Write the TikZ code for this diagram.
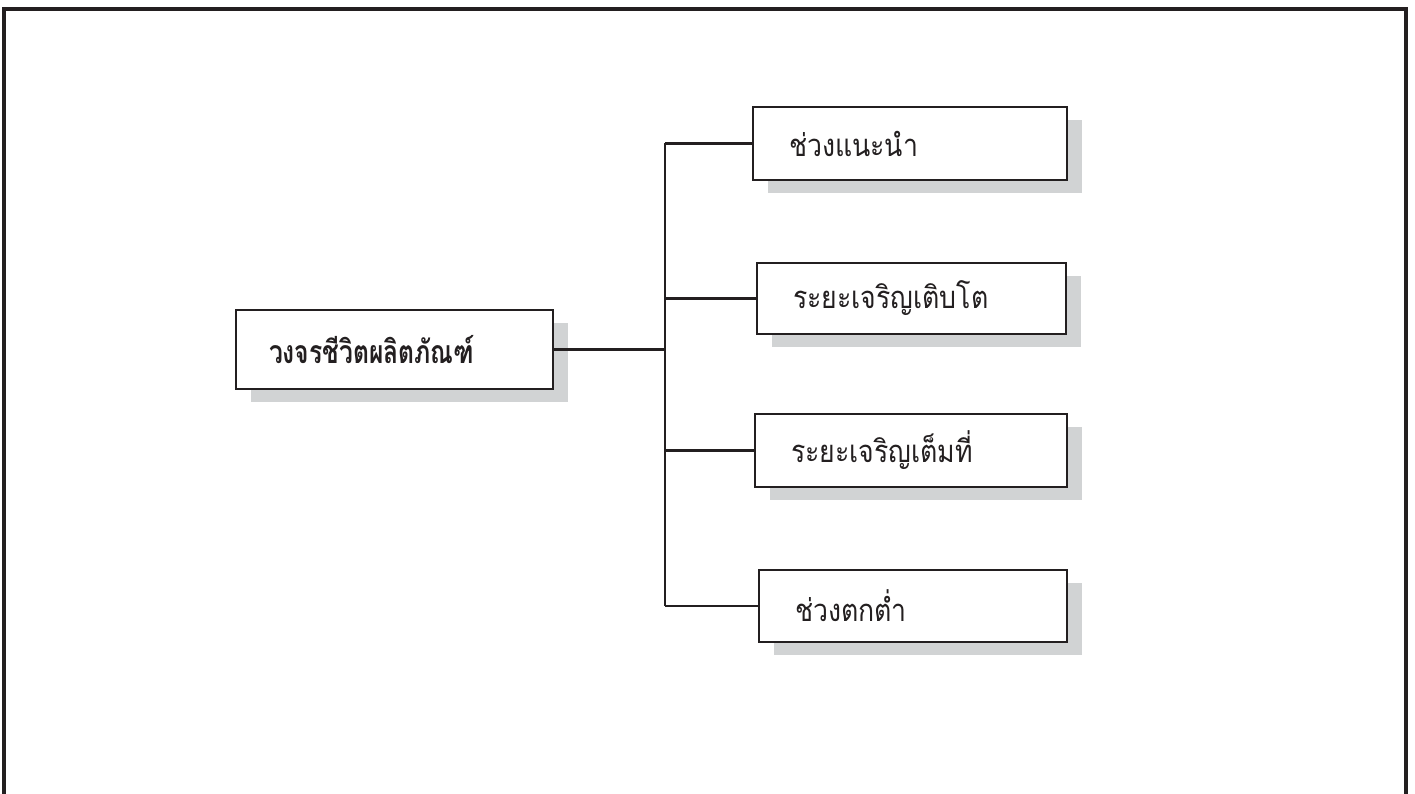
\documentclass[tikz,border=0pt]{standalone}
\usepackage{fontspec}
\newfontfamily\thaifont[Script=Thai, FakeStretch=0.86]{Loma}
\newfontfamily\thaibold[Script=Thai, FakeStretch=0.77]{Loma}
\usetikzlibrary{shadows}
\definecolor{shgray}{RGB}{209,211,212}
\definecolor{ink}{RGB}{35,31,32}
\tikzset{
  box/.style={draw=ink, line width=2.3pt, fill=white, inner ysep=0pt, inner xsep=36pt,
    align=left, text=ink, font=\thaifont\fontsize{31}{36}\selectfont,
    drop shadow={fill=shgray, opacity=1, shadow xshift=15pt, shadow yshift=-13pt}},
  link/.style={draw=ink, line width=2.3pt},
}
\begin{document}
\begin{tikzpicture}[x=1pt,y=-1pt]
\useasboundingbox (0,0) rectangle (1415,794);
\draw[ink, line width=4pt] (4,800) -- (4,9.5) -- (1406,9.5) -- (1406,800);
\node[box, inner xsep=33pt, text width=251pt, minimum height=79pt, font=\thaibold\bfseries\fontsize{32}{36}\selectfont] (main) at (394.5,349.5) {วงจรชีวิตผลิตภัณฑ์};
\node[box, text width=242pt, minimum height=73pt] (b1) at (910,143.5) {ช่วงแนะนำ};
\node[box, text width=237pt, minimum height=71pt] (b2) at (911.5,298.5) {ระยะเจริญเติบโต};
\node[box, text width=240pt, minimum height=73pt] (b3) at (911,450.5) {ระยะเจริญเต็มที่};
\node[box, text width=236pt, minimum height=72pt] (b4) at (913,606) {ช่วงตกต่ำ};
\coordinate (spine) at (665,349.5);
\draw[link] (main.east) -- (main.east -| spine);
\draw[link] (spine |- b1.west) -- (spine |- b4.west);
\foreach \b in {b1,b2,b3,b4} \draw[link] (spine |- \b.west) -- (\b.west);
\end{tikzpicture}
\end{document}
